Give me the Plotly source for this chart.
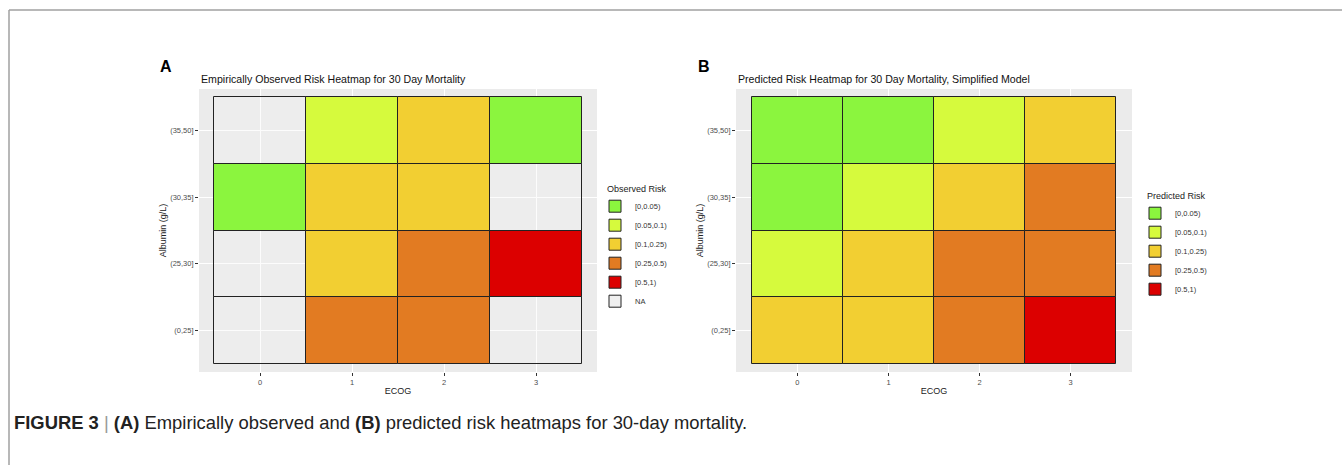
import plotly.graph_objects as go

W, H = 1342, 465

ecog = [0, 1, 2, 3]
albumin_bins = ["(0,25]", "(25,30]", "(30,35]", "(35,50]"]  # bottom -> top
risk_levels = ["[0,0.05)", "[0.05,0.1)", "[0.1,0.25)", "[0.25,0.5)", "[0.5,1)", "NA"]
risk_colors = ["#8BF53E", "#D6FA3D", "#F2CF32", "#E27B22", "#DC0000", "rgba(242,242,242,0.25)"]
legend_na_color = "#F0F0F0"

# observed risk category per cell, rows bottom -> top, columns ECOG 0..3
observed = [
    ["NA", "[0.25,0.5)", "[0.25,0.5)", "NA"],
    ["NA", "[0.1,0.25)", "[0.25,0.5)", "[0.5,1)"],
    ["[0,0.05)", "[0.1,0.25)", "[0.1,0.25)", "NA"],
    ["NA", "[0.05,0.1)", "[0.1,0.25)", "[0,0.05)"],
]
predicted = [
    ["[0.1,0.25)", "[0.1,0.25)", "[0.25,0.5)", "[0.5,1)"],
    ["[0.05,0.1)", "[0.1,0.25)", "[0.25,0.5)", "[0.25,0.5)"],
    ["[0,0.05)", "[0.05,0.1)", "[0.1,0.25)", "[0.25,0.5)"],
    ["[0,0.05)", "[0,0.05)", "[0.05,0.1)", "[0.1,0.25)"],
]


def px(x):
    return x / W


def py(y):
    return 1 - y / H


fig = go.Figure()


def add_panel(grid, xa, ya, legend, levels):
    for lvl in levels:
        xs, bases = [], []
        for r, row in enumerate(grid):
            for c, v in enumerate(row):
                if v == lvl:
                    xs.append(ecog[c])
                    bases.append(r - 0.5)
        col = risk_colors[risk_levels.index(lvl)]
        fig.add_trace(go.Bar(
            x=xs, y=[1] * len(xs), base=bases, width=1,
            name=lvl, xaxis=xa, yaxis=ya, legend=legend,
            marker=dict(color=col, line=dict(color="#222222", width=1)),
            hoverinfo="skip", showlegend=False,
        ))
        # legend key proxy (same styling, opaque NA)
        lcol = legend_na_color if lvl == "NA" else col
        fig.add_trace(go.Bar(
            x=[None], y=[None], name=lvl, xaxis=xa, yaxis=ya, legend=legend,
            marker=dict(color=lcol, line=dict(color="#222222", width=1)),
            showlegend=True, hoverinfo="skip",
        ))


add_panel(observed, "x", "y", "legend", risk_levels)
add_panel(predicted, "x2", "y2", "legend2", risk_levels[:5])

axis_common = dict(
    showgrid=True, gridcolor="white", gridwidth=1, zeroline=False,
    ticks="outside", ticklen=3, tickcolor="#333333", tickwidth=1,
    tickfont=dict(family="Arial, Liberation Sans", size=7.5, color="#4D4D4D"),
    showline=False,
)
title_font = dict(family="Arial, Liberation Sans", size=9, color="#222222")
NB = "\u00a0" * 4

fig.update_layout(
    width=W, height=H,
    margin=dict(l=0, r=0, t=0, b=0),
    paper_bgcolor="white",
    barmode="overlay",
    bargap=0,
    xaxis=dict(domain=[px(199), px(597)], range=[-0.663, 3.663], tickvals=ecog,
               ticktext=[str(e) for e in ecog], anchor="y",
               title=dict(text="ECOG", font=title_font, standoff=1), **axis_common),
    yaxis=dict(domain=[py(372), py(89)], range=[-0.62, 3.62], tickvals=[0, 1, 2, 3],
               ticktext=albumin_bins, anchor="x",
               title=dict(text="Albumin (g/L)", font=title_font, standoff=1), **axis_common),
    xaxis2=dict(domain=[px(736), px(1132)], range=[-0.675, 3.675], tickvals=ecog,
                ticktext=[str(e) for e in ecog], anchor="y2",
                title=dict(text="ECOG", font=title_font, standoff=1), **axis_common),
    yaxis2=dict(domain=[py(372), py(89)], range=[-0.62, 3.62], tickvals=[0, 1, 2, 3],
                ticktext=albumin_bins, anchor="x2",
                title=dict(text="Albumin (g/L)", font=title_font, standoff=1), **axis_common),
    plot_bgcolor="#EBEBEB",
    legend=dict(x=px(595), y=py(180), xanchor="left", yanchor="top",
                title=dict(text=NB + "Observed Risk", font=dict(family="Arial, Liberation Sans", size=9, color="#222")),
                font=dict(family="Arial, Liberation Sans", size=7.5, color="#333"),
                tracegroupgap=0, itemwidth=30, bgcolor="rgba(0,0,0,0)"),
    legend2=dict(x=px(1135), y=py(187), xanchor="left", yanchor="top",
                 title=dict(text=NB + "Predicted Risk", font=dict(family="Arial, Liberation Sans", size=9, color="#222")),
                 font=dict(family="Arial, Liberation Sans", size=7.5, color="#333"),
                 tracegroupgap=0, itemwidth=30, bgcolor="rgba(0,0,0,0)"),
    showlegend=True,
)

annotations = [
    dict(text="<b>A</b>", x=px(158), y=py(67), xref="paper", yref="paper",
         xanchor="left", yanchor="middle", showarrow=False,
         font=dict(family="Arial, Liberation Sans", size=16, color="black")),
    dict(text="<b>B</b>", x=px(696), y=py(67), xref="paper", yref="paper",
         xanchor="left", yanchor="middle", showarrow=False,
         font=dict(family="Arial, Liberation Sans", size=16, color="black")),
    dict(text="Empirically Observed Risk Heatmap for 30 Day Mortality", x=px(199), y=py(79),
         xref="paper", yref="paper", xanchor="left", yanchor="middle", showarrow=False,
         font=dict(family="Arial, Liberation Sans", size=10.6, color="#111")),
    dict(text="Predicted Risk Heatmap for 30 Day Mortality, Simplified Model", x=px(736), y=py(79),
         xref="paper", yref="paper", xanchor="left", yanchor="middle", showarrow=False,
         font=dict(family="Arial, Liberation Sans", size=10.6, color="#111")),
    dict(text="<b>FIGURE 3</b> <span style='color:#999'>|</span> <b>(A)</b> Empirically observed and <b>(B)</b> predicted risk heatmaps for 30-day mortality.",
         x=px(12), y=py(422), xref="paper", yref="paper", xanchor="left", yanchor="middle",
         showarrow=False,
         font=dict(family="Liberation Sans Narrow, Arial Narrow, Liberation Sans", size=18.4, color="#222")),
]
fig.update_layout(annotations=annotations)

fig.update_layout(shapes=[
    dict(type="line", xref="paper", yref="paper", x0=px(9), x1=1, y0=py(10), y1=py(10),
         line=dict(color="#A0A0A0", width=1.5)),
    dict(type="line", xref="paper", yref="paper", x0=px(9), x1=px(9), y0=py(10), y1=0,
         line=dict(color="#A0A0A0", width=1.5)),
])

fig.write_html("out.html", config={"displayModeBar": False},
               post_script="document.body.style.margin='0';")
